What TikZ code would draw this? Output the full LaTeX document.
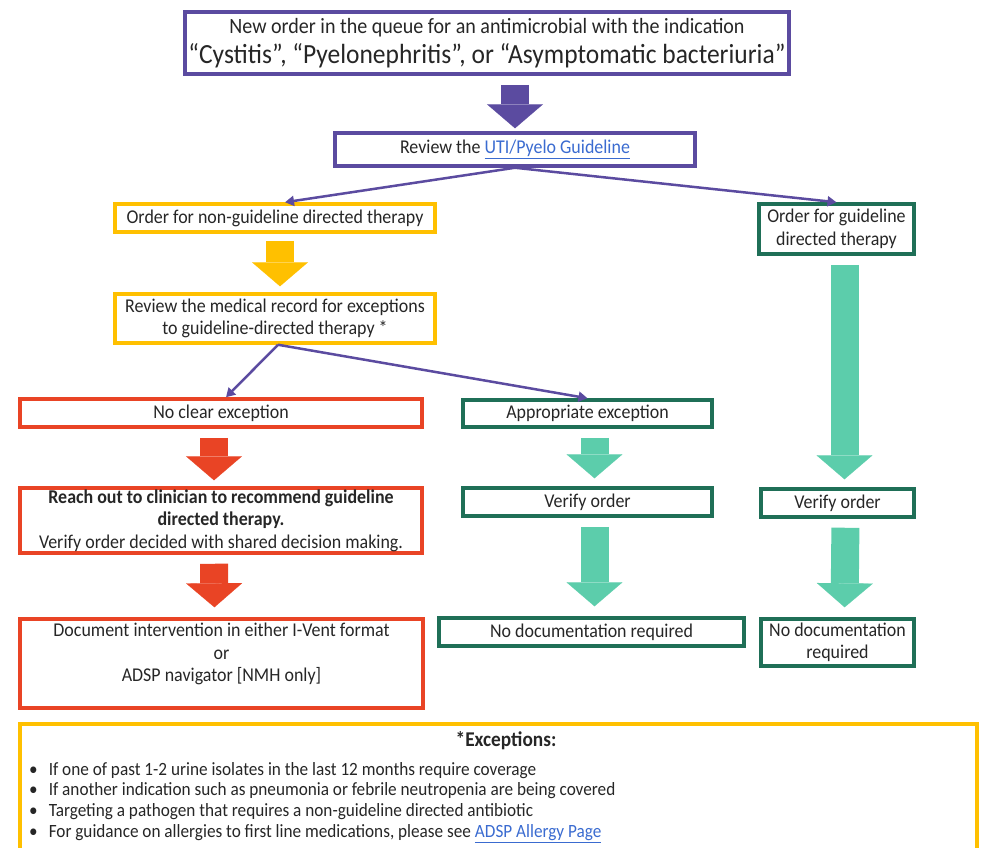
\documentclass[tikz,border=0pt]{standalone}
\usepackage{fontspec}
\setmainfont{Carlito}[FakeStretch=0.92]
\usetikzlibrary{arrows.meta}
\definecolor{lila}{HTML}{5B4BA0}
\definecolor{gold}{HTML}{FFC000}
\definecolor{rot}{HTML}{E94425}
\definecolor{dgruen}{HTML}{1F6F57}
\definecolor{tuerkis}{HTML}{5CCDAB}
\definecolor{verweis}{HTML}{3A6BD0}
\definecolor{schrift}{HTML}{262626}
\newcommand{\verw}[1]{\textcolor{verweis}{\underline{#1}}}
\begin{document}
\begin{tikzpicture}[x=1pt,y=-1pt, line join=miter,
    box/.style={draw=#1,line width=3.5pt,align=center,inner sep=0pt,text=schrift,
        font=\fontsize{19.5}{22.5}\selectfont},
    pfeil/.style={draw=lila,line width=2.5pt,-{Triangle[length=9pt,width=10pt]}},
    fat/.style={draw=#1,line width=28pt,shorten <=9pt,shorten >=3pt,
        -{Triangle[length=24pt,width=56pt,line width=0.1pt]}}]
    \useasboundingbox (0,0) rectangle (986,847);
    % boxes
    \node[box=lila,minimum width=604pt,minimum height=62pt] (top) at (487,43)
        {{\fontsize{21.8}{29}\selectfont New order in the queue for an antimicrobial with the indication}\\[5pt]
         {\fontsize{27.7}{29}\selectfont “Cystitis”, “Pyelonephritis”, or “Asymptomatic bacteriuria”}};
    \node[box=lila,minimum width=360pt,minimum height=33pt] (review) at (515,149.5)
        {Review the \verw{UTI/Pyelo Guideline}};
    \node[box=gold,minimum width=320pt,minimum height=28pt] (nongl) at (275,218)
        {Order for non-guideline directed therapy};
    \node[box=dgruen,minimum width=155pt,minimum height=50pt] (gl) at (836.5,229)
        {Order for guideline\\directed therapy};
    \node[box=gold,minimum width=320pt,minimum height=49pt] (record) at (275,318.5)
        {Review the medical record for exceptions\\to guideline-directed therapy *};
    \node[box=rot,minimum width=402pt,minimum height=28pt] (noexc) at (221,413)
        {No clear exception};
    \node[box=dgruen,minimum width=249pt,minimum height=27pt] (apexc) at (587.5,413.5)
        {Appropriate exception};
    \node[box=rot,minimum width=402pt,minimum height=65pt] (reach) at (221,520.5)
        {{\bfseries Reach out to clinician to recommend guideline}\\
         {\bfseries directed therapy.}\\Verify order decided with shared decision making.};
    \node[box=dgruen,minimum width=249pt,minimum height=28pt] (verify1) at (587.5,502)
        {Verify order};
    \node[box=dgruen,minimum width=153pt,minimum height=28pt] (verify2) at (837.5,503)
        {Verify order};
    \node[box=rot,minimum width=403pt,minimum height=89pt,text depth=22pt] (doc) at (221.5,663.5)
        {Document intervention in either I-Vent format\\or\\ADSP navigator [NMH only]};
    \node[box=dgruen,minimum width=305pt,minimum height=28pt] (nodoc1) at (591.5,632)
        {No documentation required};
    \node[box=dgruen,minimum width=153pt,minimum height=47pt] (nodoc2) at (837.5,642.5)
        {No documentation\\required};
    \node[box=gold,minimum width=957pt,minimum height=130pt] (exc) at (498.5,789) {};
    \node[text=schrift,font=\fontsize{21}{22}\selectfont\bfseries] (exctitle) at (506,741)
        {*Exceptions:};
    \node[text=schrift,anchor=north west,align=left,inner sep=0pt,
          font=\fontsize{18.7}{20.7}\selectfont] (exclist) at (29,762)
        {•\hspace{11pt}If one of past 1-2 urine isolates in the last 12 months require coverage\\
         •\hspace{11pt}If another indication such as pneumonia or febrile neutropenia are being covered\\
         •\hspace{11pt}Targeting a pathogen that requires a non-guideline directed antibiotic\\
         •\hspace{11pt}For guidance on allergies to first line medications, please see \verw{ADSP Allergy Page}};
    % thin arrows
    \draw[pfeil] (review.south) -- ([xshift=10pt]nongl.north);
    \draw[pfeil] (review.south) -- (gl.north);
    \draw[pfeil] ([xshift=3pt]record.south) -- ([xshift=5pt]noexc.north);
    \draw[pfeil] ([xshift=3pt]record.south) -- (apexc.north);
    % block arrows
    \draw[fat=lila] (review.north |- top.south) -- (review.north);
    \draw[fat=gold,shorten <=7pt,shorten >=6pt] ([xshift=5pt]nongl.south) -- ([xshift=5pt]record.north);
    \draw[fat=tuerkis,shorten >=8pt] ([xshift=8pt]gl.south) -- ([xshift=7pt]verify2.north);
    \draw[fat=rot,shorten >=6pt] ([xshift=-7pt]noexc.south) -- ([xshift=-7pt]reach.north);
    \draw[fat=tuerkis,shorten >=8pt] ([xshift=7pt]apexc.south) -- ([xshift=7pt]verify1.north);
    \draw[fat=rot,shorten >=10pt] ([xshift=-7pt]reach.south) -- ([xshift=-7pt]doc.north);
    \draw[fat=tuerkis,shorten >=10pt] ([xshift=7pt]verify1.south) -- ([xshift=3pt]nodoc1.north);
    \draw[fat=tuerkis,shorten >=10pt] ([xshift=8pt]verify2.south) -- ([xshift=7pt]nodoc2.north);
\end{tikzpicture}
\end{document}
